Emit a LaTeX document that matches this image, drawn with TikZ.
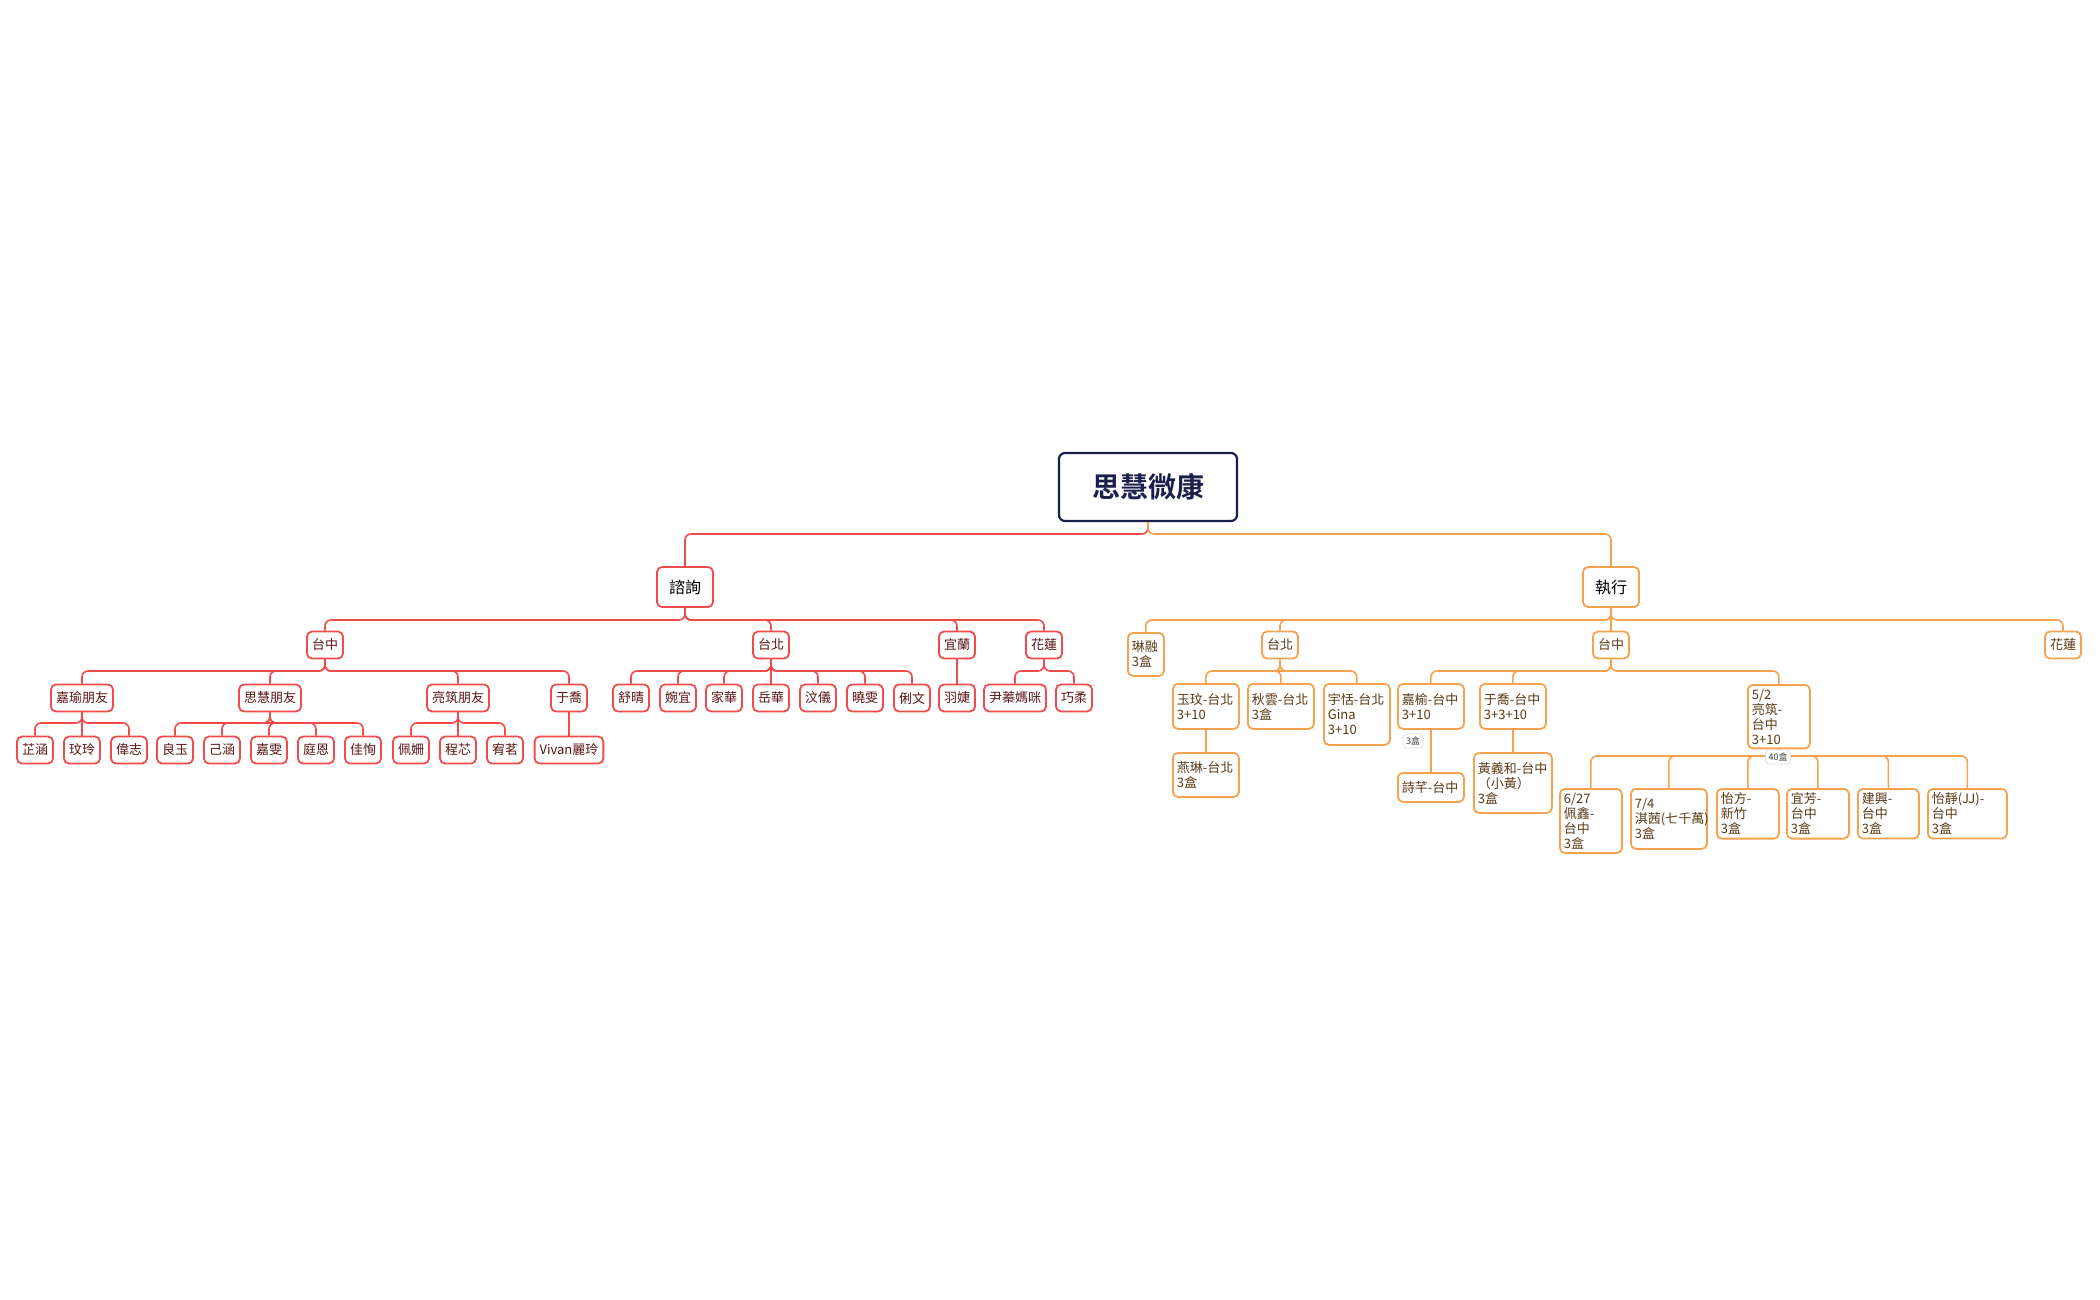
\documentclass[tikz,border=0pt]{standalone}
\usepackage{fontspec}
\setmainfont{Noto Sans CJK TC}[BoldFont={Noto Sans CJK TC Bold}]
\definecolor{redline}{HTML}{F24B4B}
\definecolor{redtext}{HTML}{5A1414}
\definecolor{orgline}{HTML}{F6A24E}
\definecolor{orgtext}{HTML}{5A3A14}
\definecolor{rootline}{HTML}{1B1F4B}
\begin{document}
\begin{tikzpicture}[
        x=0.5pt, y=-0.5pt,
        every node/.style={font=\fontsize{6.5}{7.5}\selectfont},
        rbox/.style={draw=redline, text=redtext, line width=0.9pt, rounded corners=2.5pt, fill=white, minimum height=13.5pt, inner xsep=2.5pt, inner ysep=1pt},
        obox/.style={draw=orgline, text=orgtext, line width=0.9pt, rounded corners=2.5pt, fill=white, minimum height=13.5pt, inner xsep=2.5pt, inner ysep=1pt},
        onote/.style={obox, anchor=north west, align=left, inner sep=2pt},
        tag/.style={draw=black!12, text=black!75, rounded corners=2pt, fill=white, font=\fontsize{4.5}{5}\selectfont, inner sep=1.5pt},
        rlink/.style={draw=redline, line width=0.8pt, rounded corners=3pt},
        olink/.style={draw=orgline, line width=0.8pt, rounded corners=3pt}
    ]
    \useasboundingbox (0,0) rectangle (2100,1300);

    % root
    \node[draw=rootline, line width=1.1pt, rounded corners=3pt, minimum width=89pt, minimum height=34pt, font=\bfseries\fontsize{14}{16}\selectfont, text=rootline] (root) at (1148,487) {思慧微康};

    % consult branch
    \node[rbox, font=\fontsize{8}{9}\selectfont, text=black, minimum height=20pt, inner xsep=6pt] (consult) at (685,587) {諮詢};
    \node[rbox] (tc) at (325,645) {台中};
    \node[rbox] (tp) at (771,645) {台北};
    \node[rbox] (yl) at (957,645) {宜蘭};
    \node[rbox] (hl) at (1044,645) {花蓮};

    \node[rbox] (jyf) at (82,698) {嘉瑜朋友};
    \node[rbox] (shf) at (270,698) {思慧朋友};
    \node[rbox] (lzf) at (458,698) {亮筑朋友};
    \node[rbox] (yq) at (569,698) {于喬};
    \node[rbox] (sq) at (631,698) {舒晴};
    \node[rbox] (wy) at (678,698) {婉宜};
    \node[rbox] (jh) at (724,698) {家華};
    \node[rbox] (yh) at (771,698) {岳華};
    \node[rbox] (wyi) at (818,698) {汶儀};
    \node[rbox] (xw) at (865,698) {曉雯};
    \node[rbox] (lw) at (912,698) {俐文};
    \node[rbox] (yj) at (957,698) {羽婕};
    \node[rbox] (yzm) at (1015,698) {尹蓁媽咪};
    \node[rbox] (qr) at (1074,698) {巧柔};

    \node[rbox] (zh) at (35,750) {芷涵};
    \node[rbox] (wl) at (82,750) {玟玲};
    \node[rbox] (wz) at (129,750) {偉志};
    \node[rbox] (ly) at (175,750) {良玉};
    \node[rbox] (jhan) at (222,750) {己涵};
    \node[rbox] (jw) at (269,750) {嘉雯};
    \node[rbox] (te) at (316,750) {庭恩};
    \node[rbox] (jx) at (363,750) {佳恂};
    \node[rbox] (ps) at (411,750) {佩姍};
    \node[rbox] (cx) at (458,750) {程芯};
    \node[rbox] (ym) at (505,750) {宥茗};
    \node[rbox] (vl) at (569,750) {Vivan麗玲};

    % execute branch
    \node[obox, font=\fontsize{8}{9}\selectfont, text=black, minimum height=20pt, inner xsep=6pt] (exec) at (1611,587) {執行};
    \node[onote, text width=14pt, minimum height=21.5pt] (lr) at (1127,632) {琳融\\3盒};
    \node[obox] (etp) at (1280,645) {台北};
    \node[obox] (etc) at (1611,645) {台中};
    \node[obox] (ehl) at (2063,645) {花蓮};

    \node[onote, text width=29pt, minimum height=22.5pt] (ym1) at (1172,683) {玉玟-台北\\3+10};
    \node[onote, text width=29pt, minimum height=22.5pt] (qy) at (1247,683) {秋雲-台北\\3盒};
    \node[onote, text width=29pt, minimum height=30.5pt] (yt) at (1323,683) {宇恬-台北\\Gina\\3+10};
    \node[onote, text width=29pt, minimum height=22.5pt] (jy) at (1397,683) {嘉榆-台中\\3+10};
    \node[onote, text width=29pt, minimum height=22.5pt] (yqt) at (1479,683) {于喬-台中\\3+3+10};
    \node[onote, text width=27pt, minimum height=29.5pt] (lz) at (1747,684) {5/2\\亮筑-台中\\3+10};

    \node[onote, text width=29pt, minimum height=22pt] (yl2) at (1172,752) {燕琳-台北\\3盒};
    \node[onote, text width=29pt, minimum height=14.5pt] (sq2) at (1397,772) {詩芊-台中};
    \node[onote, text width=35pt, minimum height=30pt] (hyh) at (1473,752) {黃義和-台中\\（小黃）\\3盒};

    \node[onote, text width=27pt, minimum height=30pt] (px) at (1559,788) {6/27\\佩鑫-台中\\3盒};
    \node[onote, text width=34pt, minimum height=30pt] (qq) at (1630,788) {7/4\\淇茜(七千萬)\\3盒};
    \node[onote, text width=27pt, minimum height=22pt] (yf) at (1716,788) {怡方-新竹\\3盒};
    \node[onote, text width=27pt, minimum height=22pt] (yfa) at (1786,788) {宜芳-台中\\3盒};
    \node[onote, text width=26.5pt, minimum height=22pt] (jx2) at (1857,788) {建興-台中\\3盒};
    \node[onote, text width=35.5pt, minimum height=22pt] (yjj) at (1927,788) {怡靜(JJ)-台中\\3盒};

    % connectors
    \foreach \c in {consult} \draw[rlink] (root.south) |- (\c.north |- 0,534) -- (\c.north);
    \foreach \c in {exec} \draw[olink] (root.south) |- (\c.north |- 0,534) -- (\c.north);
    \foreach \c in {tc,tp,yl,hl} \draw[rlink] (consult.south) |- (\c.north |- 0,620) -- (\c.north);
    \foreach \c in {jyf,shf,lzf,yq} \draw[rlink] (tc.south) |- (\c.north |- 0,671) -- (\c.north);
    \foreach \c in {sq,wy,jh,yh,wyi,xw,lw} \draw[rlink] (tp.south) |- (\c.north |- 0,671) -- (\c.north);
    \draw[rlink] (yl.south) -- (yj.north);
    \foreach \c in {yzm,qr} \draw[rlink] (hl.south) |- (\c.north |- 0,671) -- (\c.north);
    \foreach \c in {zh,wl,wz} \draw[rlink] (jyf.south) |- (\c.north |- 0,723) -- (\c.north);
    \foreach \c in {ly,jhan,jw,te,jx} \draw[rlink] (shf.south) |- (\c.north |- 0,723) -- (\c.north);
    \foreach \c in {ps,cx,ym} \draw[rlink] (lzf.south) |- (\c.north |- 0,723) -- (\c.north);
    \draw[rlink] (yq.south) -- (vl.north);

    \foreach \c in {lr,etp,etc,ehl} \draw[olink] (exec.south) |- (\c.north |- 0,620) -- (\c.north);
    \foreach \c in {ym1,qy,yt} \draw[olink] (etp.south) |- (\c.north |- 0,671) -- (\c.north);
    \foreach \c in {jy,yqt,lz} \draw[olink] (etc.south) |- (\c.north |- 0,671) -- (\c.north);
    \draw[olink] (ym1.south) -- (yl2.north);
    \draw[olink] (jy.south) -- (sq2.north);
    \draw[olink] (yqt.south) -- (hyh.north);
    \foreach \c in {px,qq,yf,yfa,jx2,yjj} \draw[olink] (lz.south) |- (\c.north |- 0,756) -- (\c.north);

    \node[tag] (box3) at (1413,741) {3盒};
    \node[tag] (box40) at (1778,757) {40盒};
\end{tikzpicture}
\end{document}
